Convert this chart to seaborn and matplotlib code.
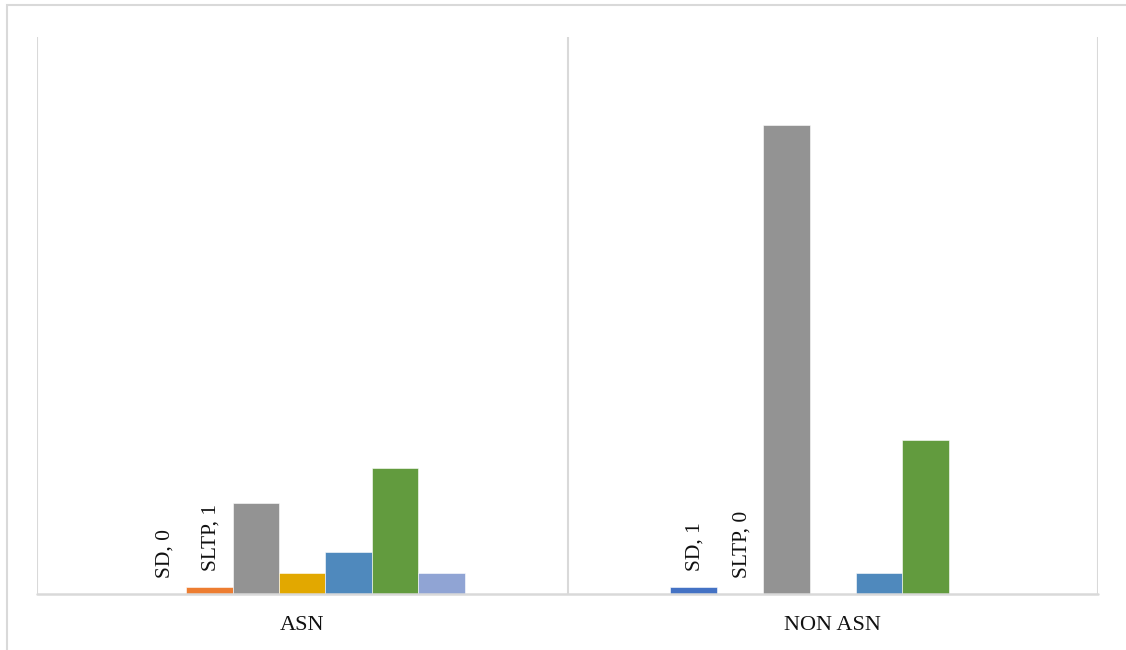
import matplotlib
matplotlib.use("Agg")
import matplotlib.pyplot as plt
import seaborn as sns
import pandas as pd
from matplotlib.patches import Rectangle

# ---- data ----
categories = ["ASN", "NON ASN"]
series_names = ["SD", "SLTP", "Series 3", "Series 4", "Series 5", "Series 6", "Series 7"]
sd = [0, 1]
sltp = [1, 0]
s3 = [13, 67]
s4 = [3, 0]
s5 = [6, 3]
s6 = [18, 22]
s7 = [3, 0]
labelled_series = ["SD", "SLTP"]

series_values = [sd, sltp, s3, s4, s5, s6, s7]
colors = ["#4472C4", "#ED7D31", "#939393", "#E2A800", "#4F89BD", "#629B3E", "#90A4D4"]

rows = []
for name, vals in zip(series_names, series_values):
    for cat, v in zip(categories, vals):
        rows.append({"group": cat, "series": name, "value": v})
df = pd.DataFrame(rows)

sns.set_theme(style="white")
plt.rcParams["font.family"] = ["Liberation Serif", "DejaVu Serif"]

W, H = 1126, 650
fig = plt.figure(figsize=(W / 100, H / 100), dpi=100)
ax = fig.add_axes([37 / W, (H - 594) / H, (1098 - 37) / W, (594 - 37) / H])

sns.barplot(data=df, x="group", y="value", hue="series", order=categories,
            hue_order=series_names, palette=colors, width=0.613, saturation=1,
            dodge=True, legend=False, edgecolor="white", linewidth=0.4, ax=ax)

ax.set_xlim(-0.5, 1.5)
ax.set_ylim(0, 79.6)
for s in ax.spines.values():
    s.set_visible(False)
ax.set_yticks([])
ax.set_xlabel("")
ax.set_ylabel("")

grid_c = "#D9D9D9"
for xv in [-0.5, 0.5, 1.5]:
    ax.axvline(xv, color=grid_c, lw=1.5, zorder=0)
ax.axhline(0, color=grid_c, lw=1.8, zorder=3, clip_on=False)

ax.tick_params(axis="x", length=0, pad=16)
for lbl in ax.get_xticklabels():
    lbl.set_fontsize(16)
    lbl.set_color("#111111")

# data labels (series name, value) for labelled series
for name, cont in zip(series_names, ax.containers):
    if name not in labelled_series:
        continue
    for bar in cont:
        v = bar.get_height()
        xc = bar.get_x() + bar.get_width() / 2
        ax.annotate(f"{name}, {int(round(v))}", xy=(xc, v), xytext=(2, 16),
                    textcoords="offset pixels", rotation=90, ha="center",
                    va="bottom", fontsize=15.5, color="#111111")

# outer chart border
fig.add_artist(Rectangle((7 / W, -0.1), 1.2, (H - 5) / H + 0.1,
                         transform=fig.transFigure, fill=False,
                         edgecolor=grid_c, lw=1.5))

fig.savefig("out.png", dpi=100, facecolor="white")
